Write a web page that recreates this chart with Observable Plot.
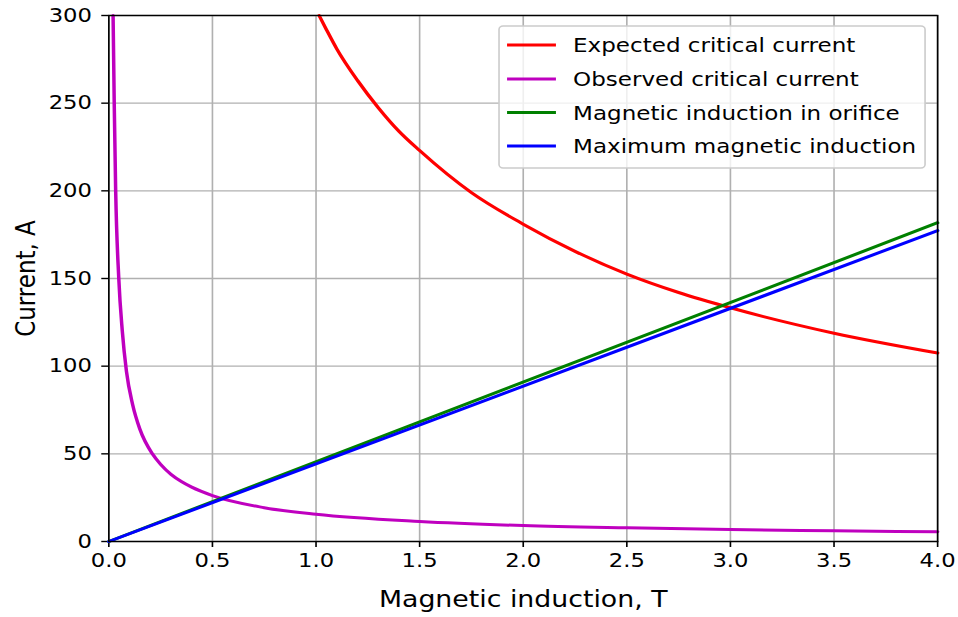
<!DOCTYPE html>
<html>
<head>
<meta charset="utf-8">
<script src="https://cdn.jsdelivr.net/npm/d3@7"></script>
<script src="https://cdn.jsdelivr.net/npm/@observablehq/plot@0.6"></script>
<style>
  html, body { margin: 0; padding: 0; background: #fff; }
  #chart { width: 958px; height: 617px; overflow: hidden; }
</style>
</head>
<body>
<div id="chart"></div>
<script>
// ---- data ----
const xTicks = [0, 0.5, 1, 1.5, 2, 2.5, 3, 3.5, 4];
const yTicks = [0, 50, 100, 150, 200, 250, 300];
const xLabel = "Magnetic induction, T";
const yLabel = "Current, A";
const seriesNames = ["Expected critical current", "Observed critical current", "Magnetic induction in orifice", "Maximum magnetic induction"];
const seriesColors = ["#ff0000", "#bf00bf", "#008000", "#0000ff"];

const expectedB = [1.015, 1.05, 1.1, 1.2, 1.3, 1.4, 1.5, 1.75, 2, 2.25, 2.5, 2.75, 3, 3.5, 4];
const expectedI = [300, 292, 281, 263, 247.5, 234, 223, 199, 181, 165.5, 152.5, 142, 133.3, 118.8, 107.5];

const observedB = [0.0205, 0.026, 0.033, 0.048, 0.065, 0.085, 0.115, 0.15, 0.21, 0.25, 0.3, 0.35, 0.4, 0.5, 0.75, 1, 1.5, 2, 2.5, 3, 3.5, 4];
const observedI = [300, 250, 200, 150, 120, 97, 78, 64, 50, 44, 38.3, 34.2, 31, 26.2, 19.3, 15.5, 11.4, 9.1, 7.8, 6.8, 6.1, 5.5];

const orificeB = [0, 4];
const orificeI = [0, 181.8];

const maximumB = [0, 4];
const maximumI = [0, 177.3];

// ---- build tables ----
const zip = (bs, is) => bs.map((b, i) => ({B: b, I: is[i]}));
const series = [
  {data: zip(expectedB, expectedI), curve: "monotone-x"},
  {data: zip(observedB, observedI), curve: "monotone-x"},
  {data: zip(orificeB, orificeI), curve: "linear"},
  {data: zip(maximumB, maximumI), curve: "linear"}
];

// The reference is a 4:3 figure stretched horizontally to 958 px wide.
const W0 = 823, H = 617, OUTW = 958;
const font = "DejaVu Sans";
const lineW = 3;
const gridStyle = {stroke: "#b0b0b0", strokeOpacity: 1, strokeWidth: 1.4};

const plot = Plot.plot({
  width: W0,
  height: H,
  marginLeft: 93,
  marginRight: 18,
  marginTop: 15,
  marginBottom: 76,
  style: {fontFamily: font, fontSize: "19.5px", color: "black", background: "white"},
  x: {domain: [0, 4], label: null},
  y: {domain: [0, 300], label: null},
  marks: [
    Plot.gridX(xTicks, gridStyle),
    Plot.gridY(yTicks, gridStyle),
    Plot.axisX(xTicks, {tickSize: 6, tickPadding: 5.5, strokeWidth: 1.4, fontSize: 19.5, tickFormat: d3.format(".1f"), label: null}),
    Plot.axisY(yTicks, {tickSize: 6, tickPadding: 8.5, strokeWidth: 1.4, fontSize: 19.5, label: null}),
    ...series.map((s, i) => Plot.line(s.data, {x: "B", y: "I", stroke: seriesColors[i], strokeWidth: lineW, curve: s.curve})),
    Plot.frame({stroke: "black", strokeWidth: 1.4}),
    Plot.text([xLabel], {frameAnchor: "bottom", dy: 49, lineAnchor: "top", textAnchor: "middle", fontSize: 23, fill: "black"}),
    Plot.text([yLabel], {frameAnchor: "left", dx: -71, rotate: -90, textAnchor: "middle", fontSize: 23, fill: "black"})
  ]
});

// stretch the 4:3 drawing to the 958-wide frame, as the reference was
plot.setAttribute("width", OUTW);
plot.setAttribute("height", H);
plot.setAttribute("preserveAspectRatio", "none");
plot.style.width = OUTW + "px";
plot.style.height = H + "px";
plot.style.maxWidth = "none";

// ---- legend (inside the axes, upper right) ----
const svg = d3.select(plot);
const lg = svg.append("g").attr("font-family", font).attr("font-size", 19.8);
const box = {x: 428.7, y: 26, w: 366, h: 142};
lg.append("rect")
  .attr("x", box.x).attr("y", box.y).attr("width", box.w).attr("height", box.h)
  .attr("rx", 3.5).attr("ry", 3.5)
  .attr("fill", "white").attr("fill-opacity", 0.8)
  .attr("stroke", "#cccccc").attr("stroke-width", 1.4);
const rowY = [45, 79, 112.5, 146];
seriesNames.forEach((name, i) => {
  lg.append("line")
    .attr("x1", 435.6).attr("x2", 477.6).attr("y1", rowY[i]).attr("y2", rowY[i])
    .attr("stroke", seriesColors[i]).attr("stroke-width", lineW);
  lg.append("text")
    .attr("x", 492.3).attr("y", rowY[i]).attr("dy", "0.36em")
    .attr("text-anchor", "start").attr("fill", "black")
    .text(name);
});

document.getElementById("chart").appendChild(plot);
</script>
</body>
</html>
